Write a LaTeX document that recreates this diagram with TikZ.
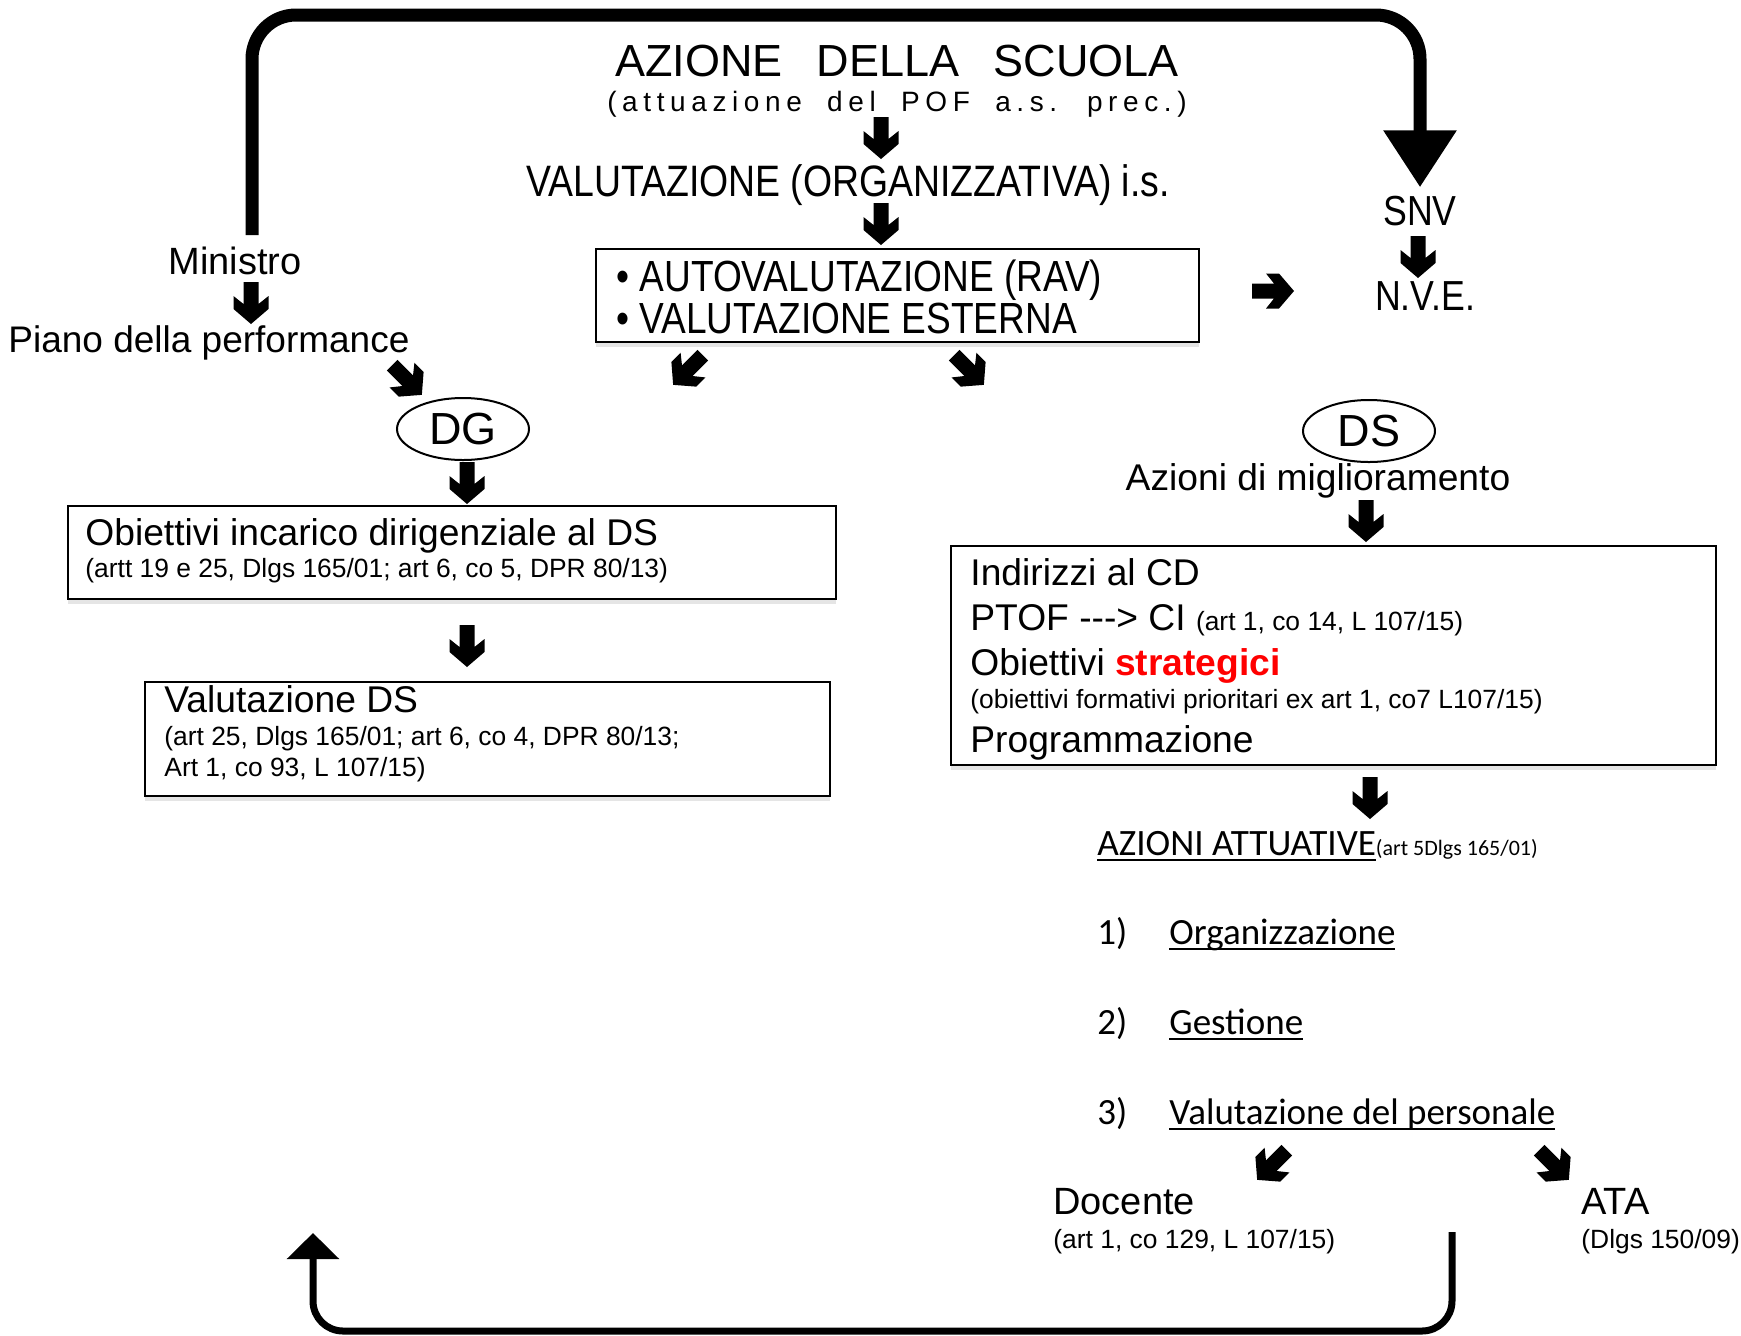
\documentclass[tikz,border=0pt]{standalone}
\usepackage{fontspec}
\setmainfont{Liberation Sans}
\newfontfamily\cond[FakeStretch=0.85]{Liberation Sans}
\newfontfamily\calib{Carlito}
\usetikzlibrary{positioning,shapes.geometric,arrows.meta,shadows}

\newcommand\fbig{\fontsize{18.6}{22}\selectfont}
\newcommand\fsmall{\fontsize{13.2}{16}\selectfont}
\newcommand\sottolinea[1]{\setbox0=\hbox{#1}\rlap{\rule[-3pt]{\wd0}{1.1pt}}\box0}

\begin{document}
\begin{tikzpicture}[x = 0.5pt, y = -0.5pt,
                    lbl/.style  = {inner sep = 0pt, anchor = base west, font = \fbig},
                    lblc/.style = {inner sep = 0pt, anchor = base, font = \fbig},
                    box/.style  = {rectangle,
                                   draw,
                                   line width = 1.2pt,
                                   anchor = north west,
                                   inner sep = 0pt,
                                   fill = white,
                                   drop shadow = {shadow xshift = 0pt, shadow yshift = -2.5pt, opacity = 0.2}},
                    oval/.style = {ellipse,
                                   draw,
                                   line width = 1pt,
                                   minimum width = 66pt,
                                   minimum height = 31pt,
                                   inner sep = 0pt,
                                   font = \fontsize{22.5}{26}\selectfont},
                    bigloop/.style  = {line width = 6.5pt, -{Triangle[length = 28.5pt, width = 35pt]}},
                    backloop/.style = {line width = 3.5pt, -{Triangle[length = 13pt, width = 25.5pt]}},
                    blk/.pic = {\fill (0,21) -- (17.5,6) -- (17.5,-7) -- (7.5,1) -- (7.5,-21)
                                 -- (-7.5,-21) -- (-7.5,1) -- (-17.5,-7) -- (-17.5,6) -- cycle;}]

\path[use as bounding box, fill = white] (0,0) rectangle (1741,1335);

% centre
\node[lblc, font = \fontsize{22.5}{27}\selectfont] (azione) at (897,76) {AZIONE\hspace{17pt}DELLA\hspace{17pt}SCUOLA};
\node[lblc, font = \fontsize{14}{17}\selectfont\addfontfeature{LetterSpace = 20}] (attuaz) at (897,111) {(attuazione\hspace{6pt} del\hspace{6pt} POF\hspace{6pt} a.s.\hspace{6pt} prec.)};
\pic at (881,138) {blk};
\node[lblc, font = \cond\fontsize{22}{26}\selectfont] (valorg) at (848,196) {VALUTAZIONE (ORGANIZZATIVA) i.s.};
\pic at (881,224) {blk};

\node[box, minimum width = 301.5pt, minimum height = 46.5pt] (autoval) at (595,248) {};
\node[lbl, font = \cond\fontsize{21.8}{25}\selectfont] (rav) at (616,291) {• AUTOVALUTAZIONE (RAV)};
\node[lbl, font = \cond\fontsize{21.8}{25}\selectfont, below = 21pt of rav.base west, anchor = base west] (esterna) {• VALUTAZIONE ESTERNA};
\pic[rotate = -45] at (688,370) {blk};
\pic[rotate = 45] at (969,370) {blk};
\pic[rotate = 90] at (1273,291) {blk};

% SNV
\node[lblc, font = \cond\fontsize{21}{25}\selectfont] (snv) at (1420,225) {SNV};
\pic at (1418,257) {blk};
\node[lblc, font = \cond\fontsize{21}{25}\selectfont] (nve) at (1425,310) {N.V.E.};

% left branch
\node[lblc, font = \fontsize{19}{23}\selectfont] (ministro) at (235,274) {Ministro};
\pic at (251,303) {blk};
\node[lbl, font = \fontsize{18.5}{22}\selectfont] (piano) at (8,352) {Piano della performance};
\pic[rotate = 45] at (407,380) {blk};
\node[oval] (dg) at (463,429) {DG};
\pic at (467,483) {blk};

\node[box, minimum width = 384pt, minimum height = 46.5pt] (obiettivi) at (67,505) {};
\node[lbl] (obtit) at (85,545) {Obiettivi incarico dirigenziale al DS};
\node[lbl, font = \fsmall, below = 16pt of obtit.base west, anchor = base west] (obref) {(artt 19 e 25, Dlgs 165/01; art 6, co 5, DPR 80/13)};
\pic at (467,646) {blk};

\node[box, minimum width = 342.5pt, minimum height = 57pt] (valds) at (144,681) {};
\node[lbl] (valtit) at (164,712) {Valutazione DS};
\node[lbl, font = \fsmall, below = 16.5pt of valtit.base west, anchor = base west] (valref) {(art 25, Dlgs 165/01; art 6, co 4, DPR 80/13;};
\node[lbl, font = \fsmall, below = 15.5pt of valref.base west, anchor = base west] (valrefb) {Art 1, co 93, L 107/15)};

% right branch
\node[oval] (ds) at (1369,431) {DS};
\node[lblc] (migl) at (1318,490) {Azioni di miglioramento};
\pic at (1366,521) {blk};

\node[box, minimum width = 382.5pt, minimum height = 109.5pt] (indirizzi) at (950,545) {};
\node[lbl] (ind) at (970,585) {Indirizzi al CD};
\node[lbl, below = 22.5pt of ind.base west, anchor = base west] (ptof) {PTOF -\kern0pt-\kern0pt-> CI {\fsmall (art 1, co 14, L 107/15)}};
\node[lbl, below = 22.5pt of ptof.base west, anchor = base west] (strat) {Obiettivi \textcolor{red}{\bfseries strategici}};
\node[lbl, font = \fsmall, below = 16.5pt of strat.base west, anchor = base west] (prior) {(obiettivi formativi prioritari ex art 1, co7 L107/15)};
\node[lbl, below = 22pt of prior.base west, anchor = base west] (progr) {Programmazione};
\pic at (1370,798) {blk};

\node[lbl, font = \calib\fontsize{18.6}{22}\selectfont] (attuative) at (1097,855) {\sottolinea{AZIONI ATTUATIVE}{\fontsize{11}{13}\selectfont(art 5Dlgs 165/01)}};

\node[lbl, font = \calib\fontsize{18.5}{22}\selectfont] (num1) at (1097,944) {1)};
\node[lbl, font = \calib\fontsize{18.5}{22}\selectfont] (org) at (1169,944) {\sottolinea{Organizzazione}};
\node[lbl, font = \calib\fontsize{18.5}{22}\selectfont, below = 45pt of num1.base west, anchor = base west] (num2) {2)};
\node[lbl, font = \calib\fontsize{18.5}{22}\selectfont, below = 45pt of org.base west, anchor = base west] (gest) {\sottolinea{Gestione}};
\node[lbl, font = \calib\fontsize{18.5}{22}\selectfont, below = 45pt of num2.base west, anchor = base west] (num3) {3)};
\node[lbl, font = \calib\fontsize{18.5}{22}\selectfont, below = 45pt of gest.base west, anchor = base west] (pers) {\sottolinea{Valutazione del personale}};
\pic[rotate = -45] at (1272,1165) {blk};
\pic[rotate = 45] at (1554,1165) {blk};

\node[lbl, font = \fontsize{19}{23}\selectfont] (docente) at (1053,1214) {Docente};
\node[lbl, font = \fsmall, below = 17pt of docente.base west, anchor = base west] (docref) {(art 1, co 129, L 107/15)};
\node[lbl, font = \fontsize{19}{23}\selectfont] (ata) at (1581,1214) {ATA};
\node[lbl, font = \fsmall, below = 17pt of ata.base west, anchor = base west] (ataref) {(Dlgs 150/09)};

% loops
\coordinate (toploop) at (252,15);
\draw[bigloop] ([shift = {(17,-11)}]ministro.north) [rounded corners = 22pt] -- (toploop) -| ([yshift = 4pt]snv.north);

\coordinate (retstart) at (1452,1232);
\coordinate (retbottom) at (313,1331);
\coordinate (retend) at (313,1233);
\draw[backloop] (retstart) [rounded corners = 15pt] |- (retbottom) -- (retend);

\end{tikzpicture}
\end{document}
